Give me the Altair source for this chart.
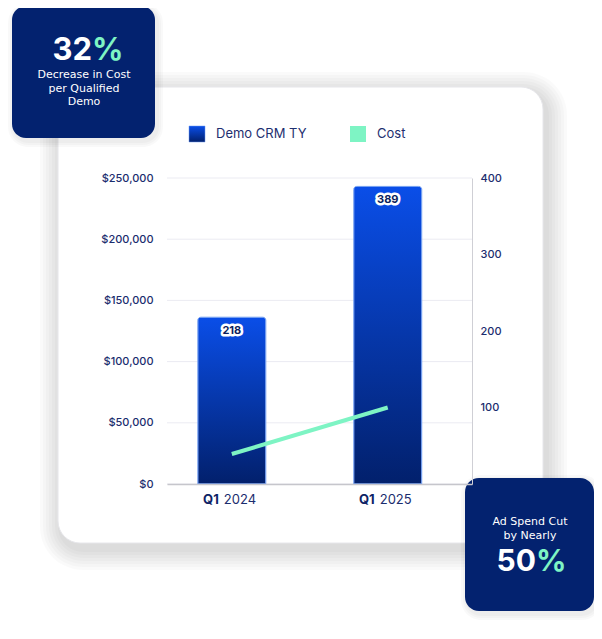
import altair as alt
import pandas as pd

# ---- data ----
quarters = ["Q1 2024", "Q1 2025"]
quarter_prefix = ["Q1", "Q1"]
years = ["2024", "2025"]
demo_crm_ty = [218, 389]
cost = [24500, 62500]
cost_ticks = [0, 50000, 100000, 150000, 200000, 250000]
count_ticks = [100, 200, 300, 400]

FONT = "Inter"
SUBFONT = "DejaVu Sans"
NAVY = "#03226f"
TEXT = "#1b2d6e"
MINT = "#7ef4c4"

df = pd.DataFrame({
    "quarter": quarters,
    "prefix": quarter_prefix,
    "year": years,
    "demo": demo_crm_ty,
    "cost": cost,
})
one = pd.DataFrame({"k": [0]})

# plot origin in page pixels
OX, OY = 167, 178


def px(v):
    return v - OX


def py(v):
    return v - OY


def rect(x0, y0, x1, y1, **kw):
    return alt.Chart(one).mark_rect(**kw).encode(
        x=alt.value(px(x0)), x2=alt.value(px(x1)),
        y=alt.value(py(y0)), y2=alt.value(py(y1)))


def label(text, x, y, **kw):
    kw.setdefault("font", FONT)
    return alt.Chart(one).mark_text(text=text, **kw).encode(
        x=alt.value(px(x)), y=alt.value(py(y)))


grad = alt.LinearGradient(
    gradient="linear",
    stops=[alt.GradientStop(color="#0a4ee8", offset=0),
           alt.GradientStop(color="#02206c", offset=1)],
    x1=0, x2=0, y1=0, y2=1)

layers = []

# card shadow
for i in range(1, 8):
    e = 3 * i
    layers.append(rect(58 - e + 3, 87 - e + 6, 543 + e + 3, 543 + e + 6,
                       fill="#000000", opacity=0.018, cornerRadius=22 + e))
# card
layers.append(rect(58, 87, 543, 543, fill="white", stroke="#e6e6ea",
                   strokeWidth=1, cornerRadius=22))

x_enc = alt.X("quarter:N", sort=quarters,
              scale=alt.Scale(paddingInner=0.564, paddingOuter=0.26, align=0.38),
              axis=alt.Axis(title=None, labels=False, ticks=False, grid=False,
                            domainColor="#c6c6cc", domainWidth=1.5, zindex=1))

# gridlines
grid = alt.Chart(pd.DataFrame({"v": cost_ticks})).mark_rule(
    color="#ebebf2", strokeWidth=1).encode(
    y=alt.Y("v:Q", scale=alt.Scale(domain=[0, 250000]), axis=None))
layers.append(grid)

base = alt.Chart(df)

bars = base.mark_bar(fill=grad, stroke="#6e9bf0", strokeWidth=1,
                     cornerRadiusTopLeft=3, cornerRadiusTopRight=3).encode(
    x=x_enc,
    y=alt.Y("demo:Q", scale=alt.Scale(domain=[0, 400]),
            axis=alt.Axis(orient="right", values=count_ticks, title=None,
                          domain=True, domainColor="#cfcfd5", ticks=False,
                          grid=False, labelPadding=8, labelColor=TEXT,
                          labelFont=FONT, labelFontSize=11,
                          labelFontWeight=500, zindex=1)))
layers.append(bars)

line = base.mark_line(color=MINT, strokeWidth=4).encode(
    x=x_enc,
    y=alt.Y("cost:Q", scale=alt.Scale(domain=[0, 250000]),
            axis=alt.Axis(orient="left", values=cost_ticks, format="$,.0f",
                          title=None, domain=False, ticks=False, grid=False,
                          labelPadding=14, labelColor=TEXT, labelFont=FONT,
                          labelFontSize=11, labelFontWeight=500, zindex=1)))
layers.append(line)

y_lab = alt.Y("demo:Q", scale=alt.Scale(domain=[0, 400]), axis=None)
halo = base.mark_text(dy=14, font=FONT, fontSize=11, fontWeight="bold",
                      fill="white", stroke="white", strokeWidth=5,
                      strokeJoin="round").encode(x=x_enc, y=y_lab, text="demo:Q")
fg = base.mark_text(dy=14, font=FONT, fontSize=11, fontWeight="bold",
                    color="#0c1f5e").encode(x=x_enc, y=y_lab, text="demo:Q")
layers += [halo, fg]

# x labels: bold "Q1" + regular year
xl1 = base.mark_text(align="right", dx=-13, font=FONT, fontSize=13,
                     fontWeight="bold", color="#0d2366").encode(
    x=x_enc, y=alt.value(py(500)), text="prefix:N")
xl2 = base.mark_text(align="left", dx=-8, font=FONT, fontSize=13,
                     fontWeight=400, color=TEXT).encode(
    x=x_enc, y=alt.value(py(500)), text="year:N")
layers += [xl1, xl2]

# legend
layers.append(rect(189, 126, 205, 142, fill=grad, stroke="#6e9bf0", strokeWidth=0.5))
layers.append(label("Demo CRM TY", 216, 134, align="left", baseline="middle",
                    fontSize=13, color="#1e2f70"))
layers.append(rect(350, 126, 366, 142, fill=MINT))
layers.append(label("Cost", 377, 134, align="left", baseline="middle",
                    fontSize=13, color="#1e2f70"))

# stat boxes with soft shadows
for (x0, y0, x1, y1) in [(12, 6, 155, 138), (465, 478, 594, 611)]:
    for i in range(1, 4):
        e = 2 * i
        layers.append(rect(x0 - e + 2, y0 - e + 3, x1 + e + 2, y1 + e + 3,
                           fill="#000000", opacity=0.025, cornerRadius=14 + e))
    layers.append(rect(x0, y0, x1, y1, fill=NAVY, cornerRadius=14))

# top-left box text
layers.append(label("32", 92, 51, align="right", baseline="middle",
                    fontSize=31, fontWeight="bold", color="white"))
layers.append(label("%", 92, 51, align="left", baseline="middle",
                    fontSize=31, fontWeight="bold", color=MINT))
layers.append(label(["Decrease in Cost", "per Qualified", "Demo"], 84, 69,
                    font=SUBFONT, align="center", baseline="top", lineHeight=13.5,
                    fontSize=11, color="white"))

# bottom-right box text
layers.append(label(["Ad Spend Cut", "by Nearly"], 530, 516,
                    font=SUBFONT, align="center", baseline="top", lineHeight=13.5,
                    fontSize=11, color="white"))
layers.append(label("50", 536, 562, align="right", baseline="middle",
                    fontSize=30, fontWeight="bold", color="white"))
layers.append(label("%", 536, 562, align="left", baseline="middle",
                    fontSize=30, fontWeight="bold", color=MINT))

chart = alt.layer(*layers).resolve_scale(y="independent").properties(
    width=305, height=306,
    padding={"left": 159, "top": 170, "right": 122, "bottom": 140},
    autosize=alt.AutoSizeParams(type="none"),
    background="white",
).configure_view(stroke=None)

chart.save("out.html", embed_options={"renderer": "svg", "actions": False})
